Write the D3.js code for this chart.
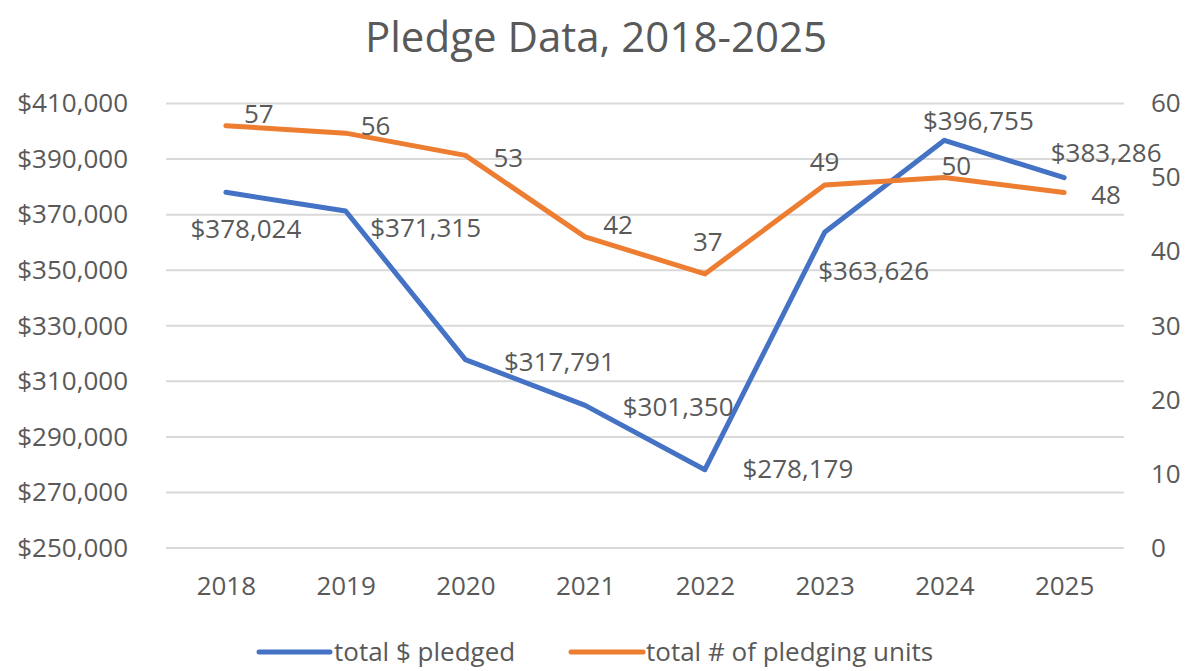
<!DOCTYPE html>
<html>
<head>
<meta charset="utf-8">
<script src="https://cdn.jsdelivr.net/npm/d3@7"></script>
<style>
  html, body { margin: 0; padding: 0; background: #fff; }
  svg { display: block; }
  text { font-family: "Open Sans", "Noto Sans", sans-serif; fill: #595959; }
</style>
</head>
<body>
<svg id="chart" width="1193" height="671"></svg>
<script>
// ---- data ----
const years = ["2018", "2019", "2020", "2021", "2022", "2023", "2024", "2025"];
const totalPledged = [378024, 371315, 317791, 301350, 278179, 363626, 396755, 383286];
const pledgingUnits = [57, 56, 53, 42, 37, 49, 50, 48];
const leftTicks = [250000, 270000, 290000, 310000, 330000, 350000, 370000, 390000, 410000];
const rightTicks = [0, 10, 20, 30, 40, 50, 60];
const seriesNames = ["total $ pledged", "total # of pledging units"];
const titleText = "Pledge Data, 2018-2025";

// ---- layout (label placement offsets, not data) ----
const pledgedLabelOffsets = [[20, 36], [80, 17], [94, 2], [93, 1], [93, -1], [49, 38], [34, -20], [42, -25]];
const unitsLabelOffsets = [[33, -12], [30, -7], [43, 2], [33, -12], [3, -32], [0, -23], [12, -12], [42, 2]];

const colors = { pledged: "#4472C4", units: "#ED7D31" };
const plot = { left: 166, right: 1124, top: 103.5, bottom: 548 };
const fs = 26;

const svg = d3.select("#chart");

const x = d3.scalePoint().domain(years).range([plot.left, plot.right]).padding(0.5);
const yL = d3.scaleLinear().domain([250000, 410000]).range([plot.bottom, plot.top]);
const yR = d3.scaleLinear().domain([0, 60]).range([plot.bottom, plot.top]);

// gridlines
svg.append("g").selectAll("line").data(leftTicks).join("line")
  .attr("x1", plot.left).attr("x2", plot.right)
  .attr("y1", d => yL(d)).attr("y2", d => yL(d))
  .attr("stroke", "#d9d9d9").attr("stroke-width", 2);

// left axis
const fmtMoney = v => "$" + d3.format(",")(v);
const gL = svg.append("g").attr("transform", `translate(${plot.left},0)`)
  .call(d3.axisLeft(yL).tickValues(leftTicks).tickFormat(fmtMoney).tickSize(0).tickPadding(38));
gL.select(".domain").remove();
gL.selectAll("text").style("font-size", fs + "px").attr("fill", "#595959")
  .style("font-family", '"Open Sans", sans-serif');

// right axis
const gR = svg.append("g").attr("transform", `translate(${plot.right},0)`)
  .call(d3.axisRight(yR).tickValues(rightTicks).tickSize(0).tickPadding(27));
gR.select(".domain").remove();
gR.selectAll("text").style("font-size", fs + "px").attr("fill", "#595959")
  .style("font-family", '"Open Sans", sans-serif');

// bottom axis
const gB = svg.append("g").attr("transform", `translate(0,${plot.bottom})`)
  .call(d3.axisBottom(x).tickSize(0).tickPadding(29));
gB.select(".domain").remove();
gB.selectAll("text").style("font-size", fs + "px").attr("fill", "#595959")
  .style("font-family", '"Open Sans", sans-serif');

// lines
const linePledged = d3.line().x((d, i) => x(years[i])).y(d => yL(d));
const lineUnits = d3.line().x((d, i) => x(years[i])).y(d => yR(d));

svg.append("path").datum(totalPledged)
  .attr("d", linePledged).attr("fill", "none")
  .attr("stroke", colors.pledged).attr("stroke-width", 5)
  .attr("stroke-linejoin", "round").attr("stroke-linecap", "round");

svg.append("path").datum(pledgingUnits)
  .attr("d", lineUnits).attr("fill", "none")
  .attr("stroke", colors.units).attr("stroke-width", 5)
  .attr("stroke-linejoin", "round").attr("stroke-linecap", "round");

// data labels
svg.append("g").selectAll("text").data(totalPledged).join("text")
  .attr("x", (d, i) => x(years[i]) + pledgedLabelOffsets[i][0])
  .attr("y", (d, i) => yL(d) + pledgedLabelOffsets[i][1])
  .attr("dy", "0.36em").attr("text-anchor", "middle")
  .style("font-size", fs + "px").attr("fill", "#404040")
  .text(d => fmtMoney(d));

svg.append("g").selectAll("text").data(pledgingUnits).join("text")
  .attr("x", (d, i) => x(years[i]) + unitsLabelOffsets[i][0])
  .attr("y", (d, i) => yR(d) + unitsLabelOffsets[i][1])
  .attr("dy", "0.36em").attr("text-anchor", "middle")
  .style("font-size", fs + "px").attr("fill", "#404040")
  .text(d => d);

// title
svg.append("text").attr("x", 596).attr("y", 52).attr("text-anchor", "middle")
  .style("font-size", "42px").text(titleText);

// legend
const legendY = 652;
const legendItems = [
  { name: seriesNames[0], color: colors.pledged, x1: 259, x2: 330, tx: 334 },
  { name: seriesNames[1], color: colors.units, x1: 571, x2: 643, tx: 646 }
];
const lg = svg.append("g");
legendItems.forEach(it => {
  lg.append("line").attr("x1", it.x1).attr("x2", it.x2).attr("y1", legendY).attr("y2", legendY)
    .attr("stroke", it.color).attr("stroke-width", 5).attr("stroke-linecap", "round");
  lg.append("text").attr("x", it.tx).attr("y", legendY).attr("dy", "0.36em")
    .style("font-size", fs + "px").text(it.name);
});
</script>
</body>
</html>
